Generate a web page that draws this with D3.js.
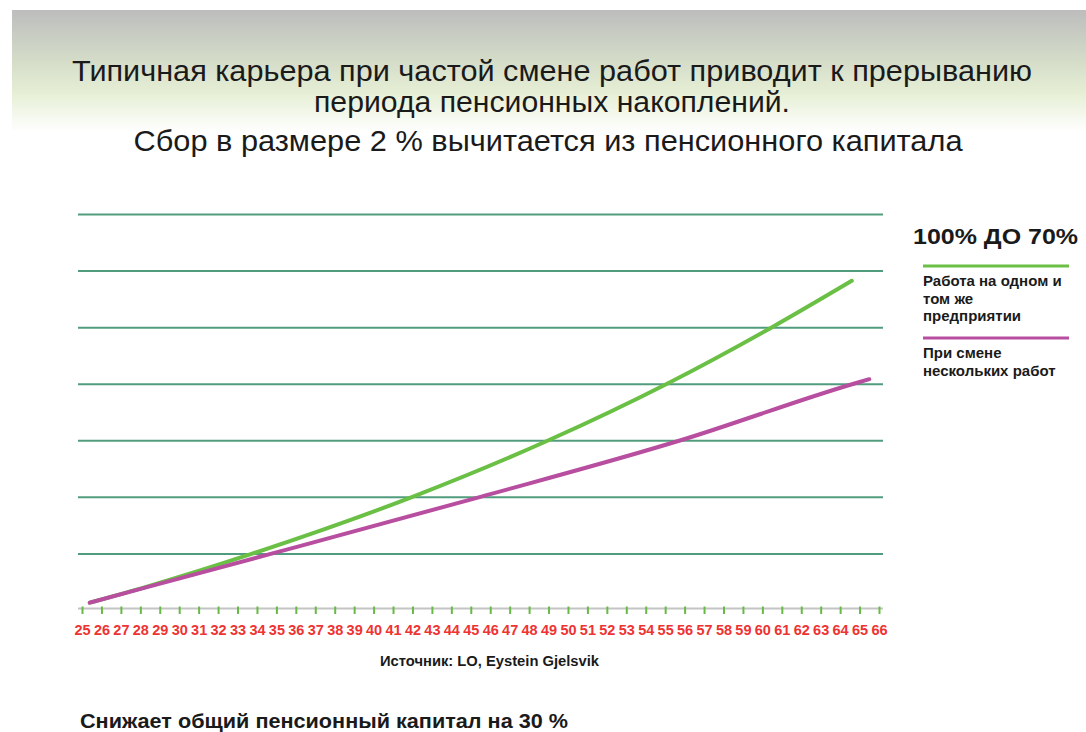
<!DOCTYPE html>
<html>
<head>
<meta charset="utf-8">
<script src="https://cdn.jsdelivr.net/npm/d3@7"></script>
<style>
  body { margin: 0; background: #fff; }
  svg { display: block; font-family: "Liberation Sans", Arial, sans-serif; }
</style>
</head>
<body>
<svg></svg>
<script>
const w = 1086;
const h = 732;

// ages on the x axis
const ages = d3.range(25, 67);
const gridValues = [1, 2, 3, 4, 5, 6, 7];

// same company all career
const oneJobAges = [25.4, 28.3, 33.8, 42.0, 49.0, 55.1, 60.5, 64.6];
const oneJobValues = [0.13, 0.41, 1.0, 2.0, 3.0, 4.0, 5.0, 5.82];

// several job changes
const manyJobsAges = [25.4, 28.3, 34.8, 45.5, 55.8, 64.7, 65.5];
const manyJobsValues = [0.13, 0.40, 1.0, 2.0, 3.0, 4.0, 4.08];

const titleLines = [
	'Типичная карьера при частой смене работ приводит к прерыванию',
	'периода пенсионных накоплений.',
	'Сбор в размере 2 % вычитается из пенсионного капитала'
];

let canvas = d3.select('svg').attr('width', w).attr('height', h);

// header band
const defs = canvas.append('defs');
const grad = defs.append('linearGradient').attr('id', 'hdr').attr('x1', 0).attr('y1', 0).attr('x2', 0).attr('y2', 1);
grad.append('stop').attr('offset', '0%').attr('stop-color', '#bdbdbd');
grad.append('stop').attr('offset', '40%').attr('stop-color', '#d3dbc8');
grad.append('stop').attr('offset', '68%').attr('stop-color', '#e6efd5');
grad.append('stop').attr('offset', '100%').attr('stop-color', '#ffffff');
canvas.append('rect').attr('x', 12).attr('y', 10).attr('width', w - 12).attr('height', 122).attr('fill', 'url(#hdr)');

const titleY = [81, 112, 151];
const titleW = [960, 476, 829];
canvas
	.selectAll('.title')
	.data(titleLines)
	.enter()
	.append('text')
	.attr('class', 'title')
	.attr('x', (d, i) => (i === 2 ? 548 : 552))
	.attr('y', (d, i) => titleY[i])
	.attr('text-anchor', 'middle')
	.attr('font-size', 30)
	.attr('fill', '#1a1a1a')
	.attr('textLength', (d, i) => titleW[i])
	.attr('lengthAdjust', 'spacingAndGlyphs')
	.text((d) => d);

// scales
const xScale = d3.scaleLinear().domain([25, 66]).range([82, 879]);
const yScale = d3.scaleLinear().domain([0, 7]).range([610, 214]);

// grid lines
const grid = canvas
	.append('g')
	.attr('transform', 'translate(78,0)')
	.call(d3.axisLeft(yScale).tickValues(gridValues).tickSize(-805).tickFormat(''));
grid.select('.domain').remove();
grid.selectAll('line').attr('stroke', '#3f9170').attr('stroke-width', 2).attr('opacity', 0.9);

// x axis
const xAxis = canvas
	.append('g')
	.attr('transform', `translate(0, ${yScale(0) - 1.5})`)
	.call(d3.axisBottom(xScale).tickValues(ages).tickSize(7).tickPadding(9).tickFormat(d3.format('d')));
xAxis.select('.domain').attr('d', 'M78,0H883').attr('stroke', '#c4c4c4').attr('stroke-width', 2);
xAxis.selectAll('.tick line').attr('y1', -2).attr('y2', 5.5).attr('stroke', '#66bb44').attr('stroke-width', 2);
xAxis
	.selectAll('.tick text')
	.attr('fill', '#ee3333')
	.attr('font-size', 14.5)
	.attr('font-weight', 'bold')
	.attr('font-family', '"Liberation Sans", Arial, sans-serif');

// lines
const line = d3
	.line()
	.x((d) => xScale(d[0]))
	.y((d) => yScale(d[1]))
	.curve(d3.curveMonotoneX);

const manyJobs = manyJobsAges.map((a, i) => [a, manyJobsValues[i]]);
const oneJob = oneJobAges.map((a, i) => [a, oneJobValues[i]]);

canvas
	.append('path')
	.datum(oneJob)
	.attr('d', line)
	.attr('fill', 'none')
	.attr('stroke', '#6abf45')
	.attr('stroke-width', 4)
	.attr('stroke-linecap', 'round');

canvas
	.append('path')
	.datum(manyJobs)
	.attr('d', line)
	.attr('fill', 'none')
	.attr('stroke', '#b84e9f')
	.attr('stroke-width', 4)
	.attr('stroke-linecap', 'round');

// legend
canvas
	.append('text')
	.attr('x', 913)
	.attr('y', 244)
	.attr('font-size', 22)
	.attr('font-weight', 'bold')
	.attr('fill', '#1a1a1a')
	.attr('textLength', 165)
	.attr('lengthAdjust', 'spacingAndGlyphs')
	.text('100% ДО 70%');

const legend = [
	{ color: '#6abf45', y: 266, lines: ['Работа на одном и', 'том же', 'предприятии'] },
	{ color: '#b84e9f', y: 338, lines: ['При смене', 'нескольких работ'] }
];
legend.forEach((item) => {
	canvas
		.append('line')
		.attr('x1', 923)
		.attr('x2', 1069)
		.attr('y1', item.y)
		.attr('y2', item.y)
		.attr('stroke', item.color)
		.attr('stroke-width', 3);
	item.lines.forEach((t, i) => {
		canvas
			.append('text')
			.attr('x', 923)
			.attr('y', item.y + 20 + i * 17.5)
			.attr('font-size', 15)
			.attr('font-weight', 'bold')
			.attr('fill', '#1a1a1a')
			.text(t);
	});
});

// source and footnote
canvas
	.append('text')
	.attr('x', 380)
	.attr('y', 666)
	.attr('font-size', 14)
	.attr('font-weight', 'bold')
	.attr('fill', '#1a1a1a')
	.attr('textLength', 219)
	.attr('lengthAdjust', 'spacingAndGlyphs')
	.text('Источник: LO, Eystein Gjelsvik');

canvas
	.append('text')
	.attr('x', 80)
	.attr('y', 728)
	.attr('font-size', 20)
	.attr('font-weight', 'bold')
	.attr('fill', '#1a1a1a')
	.attr('textLength', 488)
	.attr('lengthAdjust', 'spacingAndGlyphs')
	.text('Снижает общий пенсионный капитал на 30 %');
</script>
</body>
</html>
